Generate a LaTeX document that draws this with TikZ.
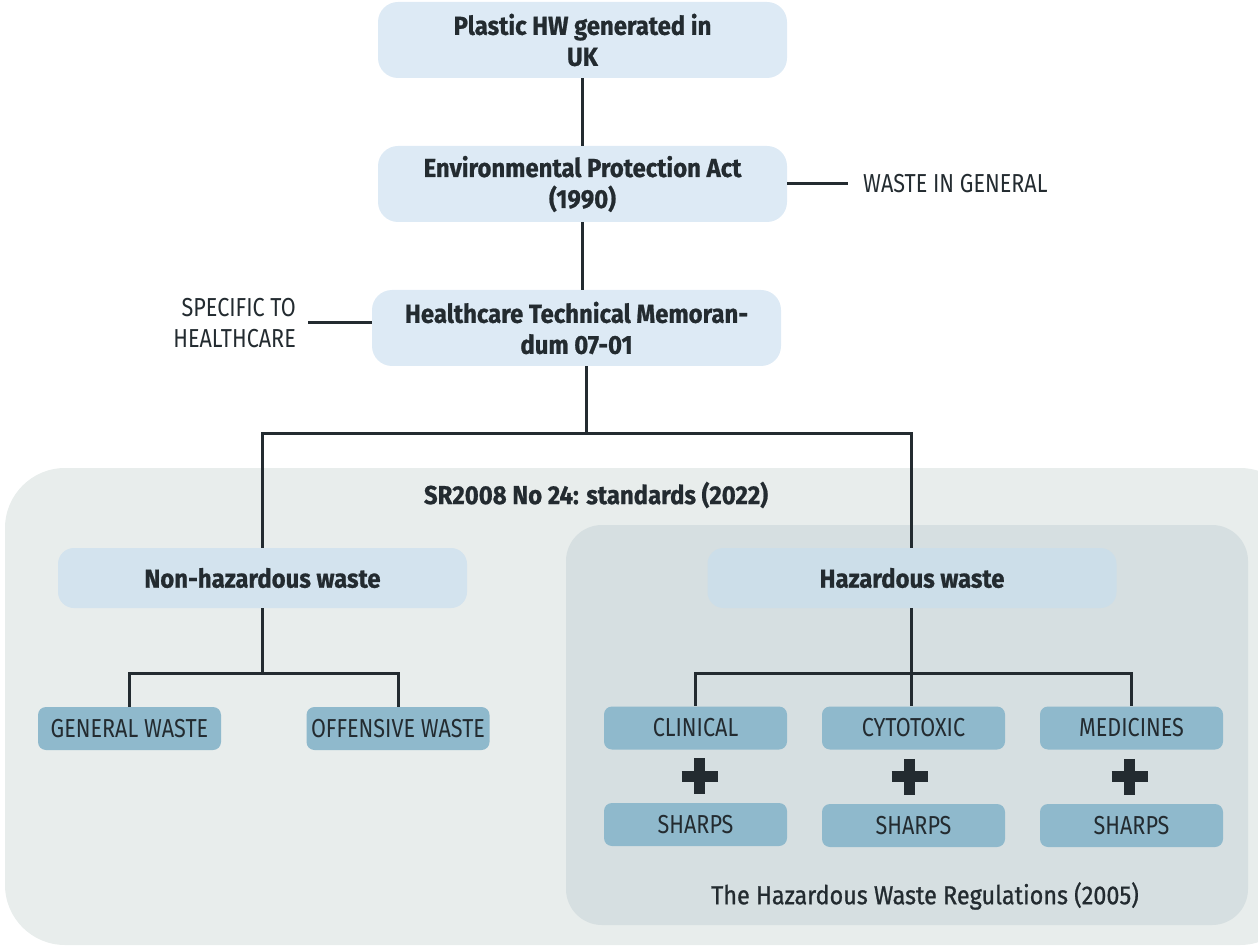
\documentclass[tikz,border=0pt]{standalone}
\usepackage{fontspec}
\setmainfont{Fira Sans}[FakeStretch=0.83, BoldFeatures={FakeStretch=0.92, FakeBold=0.8}]
\newfontfamily\captionface{Fira Sans}[FakeStretch=0.9, FakeBold=0.9]
\usetikzlibrary{calc}
\begin{document}
\definecolor{ink}{HTML}{232B30}
\definecolor{topblue}{HTML}{DDEAF5}
\definecolor{midblue}{HTML}{D3E3EE}
\definecolor{hazblue}{HTML}{CCDEE9}
\definecolor{chip}{HTML}{8FB9CC}
\definecolor{outergray}{HTML}{E8EDEC}
\definecolor{innergray}{HTML}{D6DFE1}
\tikzset{
  txt/.style={font=\fontsize{26}{31}\selectfont, text=ink},
  headbox/.style={txt, font=\fontsize{26}{31}\selectfont\bfseries, fill=topblue,
    rounded corners=20pt, minimum width=409pt, minimum height=76pt,
    inner sep=0pt, align=center},
  groupbox/.style={headbox, minimum height=60pt, rounded corners=16pt},
  chipbox/.style={txt, fill=chip, rounded corners=8pt, minimum width=183pt,
    minimum height=43pt, inner sep=0pt},
  link/.style={draw=ink, line width=3pt},
  plus/.style={draw=ink, line width=11pt},
}
\begin{tikzpicture}[x=1pt, y=-1pt]
\useasboundingbox (0,0) rectangle (1258,949);

% framing panels
\fill[outergray, rounded corners=60pt] (5,468) rectangle (1300,945);
\fill[white] (1258,0) rectangle (1310,949);
\fill[innergray, rounded corners=36pt] (566,525) rectangle (1248,925);

% headline chain
\node[headbox] (plastic) at (582.5,40) {Plastic HW generated in\\UK};
\node[headbox] (epa) at (582.5,184) {Environmental Protection Act\\(1990)};
\node[headbox] (htm) at (576.5,328) {Healthcare Technical Memoran-\\dum 07-01};

\node[txt, anchor=west, inner xsep=15pt, inner ysep=0pt] (general) at (848,184) {WASTE IN GENERAL};
\node[txt, anchor=east, align=right, inner xsep=12pt, inner ysep=0pt] (specific) at (308,323) {SPECIFIC TO\\HEALTHCARE};

\node[txt, font=\fontsize{26}{31}\selectfont\bfseries] (sr) at (596,495) {SR2008 No 24: standards (2022)};
\node[txt, font=\fontsize{26}{31}\selectfont\captionface] (hwr) at (925,896) {The Hazardous Waste Regulations (2005)};

% waste classes
\node[groupbox, fill=midblue] (nonhaz) at (262.5,578) {Non-hazardous waste};
\node[groupbox, fill=hazblue] (haz) at (912,578) {Hazardous waste};

\node[chipbox] (gen) at (129.5,728.5) {GENERAL WASTE};
\node[chipbox] (off) at (398,728.5) {OFFENSIVE WASTE};

\node[chipbox] (clin) at (695.5,728) {CLINICAL};
\node[chipbox] (cyto) at (913.5,728) {CYTOTOXIC};
\node[chipbox] (med) at (1131.5,728) {MEDICINES};

\node[chipbox] (sh1) at (695.5,824.5) {SHARPS};
\node[chipbox] (sh2) at (913.5,825.5) {SHARPS};
\node[chipbox] (sh3) at (1131.5,825.5) {SHARPS};

% branching points
\coordinate (split) at (586,433);
\coordinate (nsplit) at (262.5,673);
\coordinate (hsplit) at (911,673);

% connectors
\draw[link] (plastic) -- (epa);
\draw[link] (epa) -- (htm.north -| epa);
\draw[link] (epa.east) -- (general.west);
\draw[link] (specific.east) -- (htm.west |- specific.east);
\draw[link] (htm.south -| split) -- (split);
\draw[link] (split) -| (nonhaz.north);
\draw[link] (split) -| (haz.north -| hsplit);
\draw[link] (nonhaz) -- (nsplit);
\draw[link] (nsplit) -| (gen.north);
\draw[link] (nsplit) -| (off.north);
\draw[link] (haz.south -| hsplit) -- (cyto.north -| hsplit);
\draw[link] (hsplit) -| (clin.north);
\draw[link] (hsplit) -| (med.north);

% plus signs between each waste stream and its sharps
\foreach \a/\b/\dx in {clin/sh1/4, cyto/sh2/-4, med/sh3/-2}{
  \coordinate (p) at ($(\a.south)!0.5!(\b.north)+(\dx,0)$);
  \draw[plus] ($(p)+(-18,0)$) -- ($(p)+(18,0)$) ($(p)+(0,-18)$) -- ($(p)+(0,18)$);
}
\end{tikzpicture}
\end{document}
